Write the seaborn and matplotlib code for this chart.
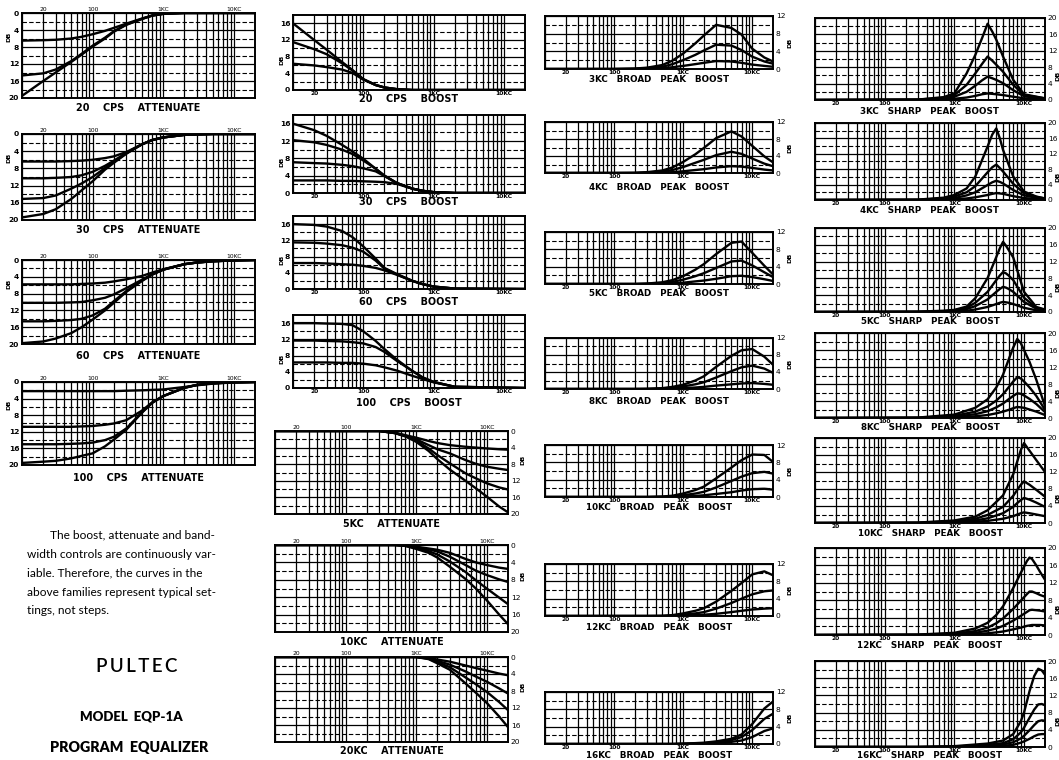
import matplotlib
matplotlib.use("Agg")
import matplotlib.pyplot as plt
from matplotlib.ticker import NullFormatter
import seaborn as sns

# ---------------- DATA (dB values) ----------------
FREQ_LOW_ATT = [10, 20, 30, 50, 70, 100, 150, 200, 300, 500, 700, 1000, 2000, 3000, 5000, 10000, 20000]
ATT_20CPS = [
    [19.5, 16.0, 14.0, 11.5, 9.8, 7.9, 6.0, 4.4, 2.8, 1.4, 0.6, 0.2, 0, 0, 0, 0, 0],
    [14.7, 14.2, 13.3, 11.3, 9.6, 7.7, 5.8, 4.3, 2.7, 1.4, 0.6, 0.2, 0, 0, 0, 0, 0],
    [6.5, 6.4, 6.3, 6.0, 5.6, 5.0, 4.2, 3.5, 2.5, 1.3, 0.6, 0.2, 0, 0, 0, 0, 0],
]
ATT_30CPS = [
    [19.4, 18.6, 17.5, 15.1, 13.1, 11.0, 8.3, 6.7, 4.6, 2.4, 1.4, 0.8, 0.2, 0.1, 0, 0, 0],
    [15.1, 14.9, 14.3, 12.7, 11.5, 10.0, 7.9, 6.5, 4.5, 2.4, 1.4, 0.8, 0.2, 0.1, 0, 0, 0],
    [10.3, 10.3, 10.2, 10.0, 9.6, 8.8, 7.4, 6.2, 4.4, 2.4, 1.4, 0.8, 0.2, 0.1, 0, 0, 0],
    [6.4, 6.4, 6.4, 6.3, 6.2, 6.0, 5.6, 5.2, 4.2, 2.4, 1.4, 0.8, 0.2, 0.1, 0, 0, 0],
]
ATT_60CPS = [
    [19.8, 19.4, 18.7, 17.4, 16.0, 14.2, 12.0, 10.2, 7.6, 5.0, 3.5, 2.3, 1.0, 0.6, 0.3, 0.1, 0],
    [14.6, 14.6, 14.5, 14.3, 14.0, 13.2, 11.6, 9.8, 7.4, 4.9, 3.4, 2.3, 1.0, 0.6, 0.3, 0.1, 0],
    [10.2, 10.2, 10.2, 10.1, 10.0, 9.6, 9.0, 8.2, 6.7, 4.7, 3.4, 2.3, 1.0, 0.6, 0.3, 0.1, 0],
    [5.8, 5.8, 5.8, 5.8, 5.7, 5.6, 5.4, 5.1, 4.6, 3.8, 3.0, 2.2, 1.0, 0.6, 0.3, 0.1, 0],
]
ATT_100CPS = [
    [19.5, 19.2, 19.0, 18.4, 17.8, 17.2, 15.5, 13.9, 11.5, 7.4, 5.0, 3.4, 1.4, 0.7, 0.3, 0.1, 0],
    [15.0, 15.0, 15.0, 14.9, 14.8, 14.6, 14.0, 13.2, 11.2, 7.3, 5.0, 3.4, 1.4, 0.7, 0.3, 0.1, 0],
    [10.8, 10.8, 10.8, 10.8, 10.7, 10.6, 10.3, 10.0, 9.2, 6.9, 4.9, 3.4, 1.4, 0.7, 0.3, 0.1, 0],
    [2.2, 2.2, 2.2, 2.2, 2.2, 2.2, 2.2, 2.2, 2.1, 2.0, 1.9, 1.8, 1.2, 0.8, 0.4, 0.1, 0],
]

FREQ_LOW_BOOST = [10, 20, 30, 50, 70, 100, 150, 200, 300, 500, 700, 1000, 2000, 20000]
BOOST_20CPS = [
    [16.0, 12.0, 9.7, 6.7, 4.8, 2.6, 1.2, 0.6, 0.2, 0, 0, 0, 0, 0],
    [11.5, 9.8, 8.6, 6.4, 4.7, 2.6, 1.2, 0.6, 0.2, 0, 0, 0, 0, 0],
    [6.3, 5.9, 5.5, 4.9, 4.1, 2.5, 1.2, 0.6, 0.2, 0, 0, 0, 0, 0],
]
BOOST_30CPS = [
    [16.0, 14.5, 13.2, 11.1, 9.6, 7.9, 5.6, 4.0, 2.3, 1.0, 0.5, 0.2, 0, 0],
    [12.2, 11.7, 11.1, 10.0, 9.0, 7.5, 5.6, 4.0, 2.3, 1.0, 0.5, 0.2, 0, 0],
    [7.1, 6.9, 6.8, 6.5, 6.2, 5.7, 5.0, 3.9, 2.3, 1.0, 0.5, 0.2, 0, 0],
    [2.9, 2.9, 2.9, 2.8, 2.8, 2.7, 2.6, 2.5, 2.1, 1.0, 0.5, 0.2, 0, 0],
]
BOOST_60CPS = [
    [16.0, 15.8, 15.4, 14.3, 12.8, 10.5, 7.5, 5.2, 3.7, 2.0, 1.2, 0.6, 0.1, 0],
    [11.5, 11.4, 11.2, 10.8, 10.2, 9.2, 7.0, 5.0, 3.6, 2.0, 1.2, 0.6, 0.1, 0],
    [6.4, 6.4, 6.3, 6.1, 6.0, 5.7, 5.2, 4.6, 3.5, 2.0, 1.2, 0.6, 0.1, 0],
]
BOOST_100CPS = [
    [16.0, 16.0, 15.9, 15.8, 15.5, 14.0, 11.6, 9.6, 7.0, 4.2, 2.6, 1.5, 0.3, 0],
    [11.7, 11.7, 11.6, 11.5, 11.3, 11.0, 10.1, 8.9, 6.7, 4.2, 2.6, 1.5, 0.3, 0],
    [6.3, 6.3, 6.3, 6.2, 6.2, 6.0, 5.6, 5.1, 4.3, 3.0, 2.2, 1.4, 0.3, 0],
]

FREQ_HIGH_ATT = [10, 100, 300, 500, 700, 1000, 1500, 2000, 3000, 5000, 7000, 10000, 15000, 20000]
ATT_5KC = [
    [0, 0, 0, 0.4, 1.0, 1.6, 2.4, 2.9, 3.4, 3.8, 4.0, 4.2, 4.4, 4.5],
    [0, 0, 0, 0.5, 1.1, 2.0, 3.4, 4.4, 5.4, 7.0, 7.9, 8.6, 9.1, 9.4],
    [0, 0, 0, 0.5, 1.2, 2.3, 4.2, 5.8, 7.8, 10.2, 11.4, 12.6, 13.6, 14.1],
    [0, 0, 0, 0.5, 1.3, 2.6, 4.8, 6.8, 9.3, 12.0, 13.8, 15.8, 18.2, 19.6],
]
ATT_10KC = [
    [0, 0, 0, 0, 0.1, 0.4, 0.8, 1.1, 1.8, 3.2, 4.0, 4.6, 5.2, 5.5],
    [0, 0, 0, 0, 0.1, 0.5, 1.0, 1.5, 2.7, 4.6, 5.9, 6.9, 7.9, 8.5],
    [0, 0, 0, 0, 0.2, 0.7, 1.4, 2.2, 3.8, 6.2, 8.1, 10.0, 12.1, 13.6],
    [0, 0, 0, 0, 0.2, 0.9, 1.8, 2.9, 5.0, 7.8, 10.0, 12.7, 16.0, 18.2],
]
ATT_20KC = [
    [0, 0, 0, 0, 0, 0, 0.2, 0.6, 1.1, 2.0, 2.6, 3.2, 3.9, 4.3],
    [0, 0, 0, 0, 0, 0, 0.3, 0.9, 1.8, 3.4, 4.6, 5.8, 7.4, 8.6],
    [0, 0, 0, 0, 0, 0, 0.4, 1.2, 2.4, 4.8, 6.4, 8.2, 10.6, 12.5],
    [0, 0, 0, 0, 0, 0, 0.5, 1.5, 3.0, 6.2, 8.4, 10.8, 14.0, 16.5],
]

FREQ_BROAD = [10, 100, 200, 300, 500, 700, 1000, 1500, 2000, 3000, 5000, 7000, 10000, 15000, 20000]
BROAD_3KC = [
    [0, 0, 0.1, 0.3, 0.9, 1.9, 3.5, 5.8, 7.6, 10.0, 9.3, 7.8, 4.6, 2.6, 1.7],
    [0, 0, 0.05, 0.2, 0.5, 1.1, 2.0, 3.2, 4.2, 5.5, 5.3, 4.3, 2.8, 1.7, 1.2],
    [0, 0, 0, 0.1, 0.2, 0.4, 0.7, 1.1, 1.4, 1.8, 1.7, 1.4, 1.0, 0.7, 0.5],
]
BROAD_4KC = [
    [0, 0, 0.05, 0.2, 0.6, 1.3, 2.6, 4.4, 5.9, 8.2, 9.8, 8.6, 6.4, 3.9, 2.5],
    [0, 0, 0, 0.1, 0.35, 0.7, 1.4, 2.4, 3.1, 4.2, 5.0, 4.5, 3.4, 2.2, 1.6],
    [0, 0, 0, 0, 0.1, 0.2, 0.4, 0.7, 0.9, 1.3, 1.6, 1.5, 1.2, 0.8, 0.6],
]
BROAD_5KC = [
    [0, 0, 0, 0.1, 0.4, 0.9, 1.8, 3.3, 4.6, 6.9, 9.5, 9.8, 7.2, 4.2, 2.2],
    [0, 0, 0, 0.05, 0.2, 0.5, 1.0, 1.8, 2.5, 3.7, 5.2, 5.4, 4.3, 2.7, 1.6],
    [0, 0, 0, 0, 0.1, 0.15, 0.3, 0.6, 0.8, 1.2, 1.8, 1.9, 1.6, 1.1, 0.7],
]
BROAD_8KC = [
    [0, 0, 0, 0.05, 0.2, 0.5, 1.0, 2.0, 3.0, 5.2, 7.8, 9.1, 9.4, 7.6, 5.7],
    [0, 0, 0, 0, 0.1, 0.3, 0.6, 1.1, 1.6, 2.7, 4.2, 5.1, 5.5, 4.8, 3.8],
    [0, 0, 0, 0, 0, 0.1, 0.2, 0.35, 0.5, 0.8, 1.1, 1.3, 1.4, 1.2, 1.0],
]
BROAD_10KC = [
    [0, 0, 0, 0, 0.1, 0.3, 0.8, 1.6, 2.4, 4.3, 6.8, 8.5, 9.8, 9.7, 8.1],
    [0, 0, 0, 0, 0.05, 0.15, 0.4, 0.8, 1.2, 2.2, 3.7, 4.7, 5.5, 5.8, 5.4],
    [0, 0, 0, 0, 0, 0.05, 0.1, 0.25, 0.4, 0.7, 1.1, 1.5, 1.8, 1.9, 1.7],
]
BROAD_12KC = [
    [0, 0, 0, 0, 0.05, 0.2, 0.6, 1.2, 1.8, 3.3, 5.8, 7.6, 9.6, 10.3, 9.4],
    [0, 0, 0, 0, 0, 0.1, 0.3, 0.6, 0.9, 1.7, 3.0, 4.0, 5.0, 5.7, 5.9],
    [0, 0, 0, 0, 0, 0, 0.1, 0.2, 0.3, 0.5, 0.9, 1.2, 1.5, 1.7, 1.8],
]
BROAD_16KC = [
    [0, 0, 0, 0, 0, 0, 0.1, 0.2, 0.3, 0.6, 1.2, 2.2, 4.6, 8.2, 9.8],
    [0, 0, 0, 0, 0, 0, 0.05, 0.1, 0.2, 0.4, 0.9, 1.6, 3.2, 5.8, 7.0],
    [0, 0, 0, 0, 0, 0, 0, 0.05, 0.1, 0.2, 0.5, 0.8, 1.6, 3.0, 3.6],
]

FREQ_SHARP_3KC = [10, 300, 700, 1000, 1500, 2000, 2500, 3000, 3500, 4000, 5000, 7000, 10000, 20000]
SHARP_3KC = [
    [0, 0.1, 0.7, 1.6, 6.5, 11.0, 15.1, 18.6, 16.7, 14.7, 10.6, 4.9, 1.4, 0.4],
    [0, 0.1, 0.5, 1.2, 3.7, 6.5, 8.8, 10.6, 9.6, 8.6, 6.9, 3.7, 1.2, 0.4],
    [0, 0.05, 0.3, 0.8, 2.0, 3.5, 4.8, 5.7, 5.3, 4.9, 4.1, 2.4, 0.9, 0.3],
    [0, 0, 0.1, 0.3, 0.6, 1.0, 1.4, 1.6, 1.5, 1.4, 1.2, 0.8, 0.4, 0.2],
]
FREQ_SHARP_4KC = [10, 300, 700, 1000, 1500, 2000, 3000, 3500, 4000, 4500, 5000, 7000, 10000, 15000, 20000]
SHARP_4KC = [
    [0, 0.1, 0.6, 1.3, 3.0, 6.1, 13.9, 17.0, 18.6, 16.0, 13.0, 6.1, 2.2, 0.9, 0.4],
    [0, 0.05, 0.4, 0.9, 2.0, 3.6, 7.2, 8.5, 9.2, 8.3, 7.4, 4.2, 1.8, 0.8, 0.4],
    [0, 0, 0.2, 0.5, 1.2, 2.0, 3.9, 4.6, 5.0, 4.7, 4.3, 2.6, 1.2, 0.6, 0.3],
    [0, 0, 0.1, 0.2, 0.4, 0.7, 1.3, 1.6, 1.8, 1.7, 1.6, 1.0, 0.5, 0.3, 0.2],
]
FREQ_SHARP_5KC = [10, 300, 700, 1000, 1500, 2000, 3000, 4000, 4500, 5000, 5500, 6000, 7000, 10000, 15000, 20000]
SHARP_5KC = [
    [0, 0.1, 0.3, 0.5, 1.3, 3.3, 8.1, 13.1, 15.2, 16.7, 15.8, 14.8, 13.0, 4.8, 1.2, 0.6],
    [0, 0.05, 0.2, 0.4, 1.0, 2.2, 4.8, 7.6, 8.7, 9.5, 9.2, 8.7, 7.6, 3.4, 1.0, 0.5],
    [0, 0, 0.1, 0.3, 0.7, 1.4, 3.0, 4.8, 5.5, 6.0, 5.8, 5.5, 4.8, 2.4, 0.8, 0.4],
    [0, 0, 0.05, 0.1, 0.3, 0.6, 1.2, 1.9, 2.2, 2.4, 2.3, 2.2, 1.9, 1.0, 0.4, 0.2],
]
FREQ_SHARP_8KC = [10, 300, 1000, 2000, 3000, 4000, 5000, 6000, 7000, 8000, 9000, 10000, 12000, 15000, 20000]
SHARP_8KC = [
    [0, 0.1, 0.8, 2.4, 4.4, 7.2, 10.2, 13.7, 16.6, 18.6, 17.6, 16.0, 13.2, 9.0, 2.8],
    [0, 0.05, 0.5, 1.5, 2.7, 4.1, 5.6, 7.2, 8.6, 9.6, 9.3, 8.6, 7.2, 5.2, 1.9],
    [0, 0, 0.3, 0.9, 1.6, 2.5, 3.4, 4.4, 5.2, 5.8, 5.7, 5.3, 4.5, 3.3, 1.4],
    [0, 0, 0.1, 0.4, 0.7, 1.1, 1.5, 1.9, 2.3, 2.6, 2.5, 2.4, 2.0, 1.5, 0.7],
]
FREQ_SHARP_10KC = [10, 300, 1000, 2000, 3000, 5000, 7000, 8000, 9000, 10000, 12000, 15000, 20000]
SHARP_10KC = [
    [0, 0.1, 0.6, 1.5, 3.0, 6.5, 11.5, 14.5, 17.2, 18.8, 17.0, 14.8, 12.0],
    [0, 0.05, 0.4, 1.0, 1.9, 3.8, 6.4, 7.8, 9.0, 9.8, 9.0, 7.8, 6.2],
    [0, 0, 0.2, 0.6, 1.1, 2.3, 3.8, 4.7, 5.4, 5.9, 5.5, 4.8, 3.8],
    [0, 0, 0.1, 0.3, 0.5, 1.0, 1.6, 2.0, 2.3, 2.5, 2.3, 2.0, 1.6],
]
FREQ_SHARP_12KC = [10, 300, 1000, 2000, 3000, 4000, 5000, 7000, 9000, 11000, 12000, 13000, 15000, 17000, 20000]
SHARP_12KC = [
    [0, 0.1, 0.5, 1.5, 2.8, 4.6, 6.6, 10.8, 14.3, 17.0, 17.8, 17.5, 16.0, 14.5, 12.7],
    [0, 0.05, 0.3, 0.9, 1.7, 2.7, 3.8, 6.0, 7.9, 9.4, 10.0, 10.0, 9.6, 9.2, 8.8],
    [0, 0, 0.2, 0.5, 1.0, 1.5, 2.1, 3.3, 4.4, 5.3, 5.7, 5.8, 5.7, 5.6, 5.4],
    [0, 0, 0.1, 0.2, 0.4, 0.6, 0.8, 1.3, 1.7, 2.1, 2.2, 2.3, 2.3, 2.3, 2.2],
]
FREQ_SHARP_16KC = [10, 300, 1000, 3000, 5000, 7000, 9000, 10000, 12000, 14000, 16000, 18000, 20000]
SHARP_16KC = [
    [0, 0, 0.2, 0.8, 1.5, 3.0, 6.0, 8.0, 13.0, 16.5, 18.2, 17.8, 16.8],
    [0, 0, 0.1, 0.5, 0.9, 1.8, 3.4, 4.5, 6.8, 8.7, 9.9, 10.0, 9.7],
    [0, 0, 0.05, 0.3, 0.6, 1.1, 2.0, 2.6, 3.9, 5.1, 6.0, 6.2, 6.1],
    [0, 0, 0, 0.1, 0.3, 0.5, 1.0, 1.3, 1.9, 2.5, 2.9, 3.0, 3.0],
]

X_TICKS = [20, 100, 1000, 10000]
X_TICK_LABELS = ["20", "100", "1KC", "10KC"]

PARAGRAPH = [
    "The boost, attenuate and band-",
    "width controls are continuously var-",
    "iable. Therefore, the curves in the",
    "above families represent typical set-",
    "tings, not steps.",
]

# ---------------- STYLE / LAYOUT ----------------
sns.set_theme(style="white")
plt.rcParams["font.family"] = ["DejaVu Sans"]
plt.rcParams["text.color"] = "black"
plt.rcParams["xtick.color"] = "black"
plt.rcParams["ytick.color"] = "black"
plt.rcParams["axes.labelcolor"] = "black"

W, H = 1059, 760
fig = plt.figure(figsize=(W / 100, H / 100), dpi=100)
fig.patch.set_facecolor("white")

GRID_X = (list(range(10, 100, 10)) + list(range(100, 1000, 100))
          + list(range(1000, 10000, 1000)) + [10000, 20000])


def add_ax(x0, x1, y0, y1):
    return fig.add_axes([x0 / W, 1 - y1 / H, (x1 - x0) / W, (y1 - y0) / H])


def draw(box, freq, curves, ymax, invert, yside, xside, title, title_y,
         db_pos, title_size):
    ax = add_ax(*box)
    for c in curves:
        sns.lineplot(x=freq, y=c, ax=ax, color="black", linewidth=1.7,
                     legend=False, zorder=4)
    ax.set_xscale("log")
    ax.set_xlim(10, 20000)
    ax.set_ylim(0, ymax)
    if invert:
        ax.invert_yaxis()
    ax.set_xticks(X_TICKS)
    ax.set_xticklabels(X_TICK_LABELS)
    ax.set_xticks(GRID_X, minor=True)
    ax.xaxis.set_minor_formatter(NullFormatter())
    ax.set_yticks(list(range(0, ymax + 1, 4)))
    ax.set_yticks(list(range(2, ymax, 4)), minor=True)
    ax.yaxis.set_minor_formatter(NullFormatter())
    ax.grid(False)
    ax.grid(which="both", axis="x", color="black", linewidth=0.9, zorder=1)
    ax.grid(which="major", axis="y", color="black", linewidth=0.9, zorder=1)
    ax.grid(which="minor", axis="y", color="black", linewidth=0.8,
            linestyle=(0, (4, 2)), zorder=1)
    ax.tick_params(axis="x", labelsize=4.3, pad=0.5, colors="black")
    ax.tick_params(axis="y", labelsize=5.4, pad=2, colors="black")
    for lab in ax.get_xticklabels() + ax.get_yticklabels():
        lab.set_fontweight("bold")
    if xside == "top":
        ax.xaxis.tick_top()
    if yside == "right":
        ax.yaxis.tick_right()
    ax.tick_params(which="both", length=0)
    for s in ax.spines.values():
        s.set_color("black")
        s.set_linewidth(1.4)
    ax.set_xlabel("")
    ax.set_ylabel("")
    ax.text(db_pos[0], db_pos[1], "DB", transform=ax.transAxes, rotation=90,
            fontsize=4.6, fontweight="bold", ha="center", va="center",
            color="black")
    cx = (box[0] + box[1]) / 2
    fig.text(cx / W, 1 - title_y / H, title, ha="center", va="center",
             fontsize=title_size, fontweight="bold", color="black")
    return ax


# Column 1: low-frequency attenuate
C1 = (22, 255)
for data, (y0, y1, ty), t in [
    (ATT_20CPS, (13, 98, 108), "20    CPS    ATTENUATE"),
    (ATT_30CPS, (134, 220, 230), "30    CPS    ATTENUATE"),
    (ATT_60CPS, (260, 344, 356), "60    CPS    ATTENUATE"),
    (ATT_100CPS, (382, 465, 478), "100    CPS    ATTENUATE"),
]:
    draw((C1[0], C1[1], y0, y1), FREQ_LOW_ATT, data, 20, True, "left", "top",
         t, ty, (-0.055, 0.72), 6.9)

# Column 2: low-frequency boost
C2 = (293, 525)
for data, (y0, y1, ty), t in [
    (BOOST_20CPS, (15, 90, 99), "20    CPS    BOOST"),
    (BOOST_30CPS, (115, 193, 202), "30    CPS    BOOST"),
    (BOOST_60CPS, (216, 289, 302), "60    CPS    BOOST"),
    (BOOST_100CPS, (315, 388, 403), "100    CPS    BOOST"),
]:
    draw((C2[0], C2[1], y0, y1), FREQ_LOW_BOOST, data, 18, False, "left",
         "bottom", t, ty, (-0.05, 0.4), 6.9)

# Column 2: high-frequency attenuate
C2b = (275, 508)
for data, (y0, y1, ty), t in [
    (ATT_5KC, (431, 514, 524), "5KC    ATTENUATE"),
    (ATT_10KC, (545, 632, 642), "10KC    ATTENUATE"),
    (ATT_20KC, (657, 742, 751), "20KC    ATTENUATE"),
]:
    draw((C2b[0], C2b[1], y0, y1), FREQ_HIGH_ATT, data, 20, True, "right",
         "top", t, ty, (1.065, 0.65), 6.9)

# Column 3: broad peak boost
C3 = (545, 773)
for data, (y0, y1, ty), t in [
    (BROAD_3KC, (16, 69, 80), "3KC   BROAD   PEAK   BOOST"),
    (BROAD_4KC, (122, 173, 188), "4KC   BROAD   PEAK   BOOST"),
    (BROAD_5KC, (232, 284, 293), "5KC   BROAD   PEAK   BOOST"),
    (BROAD_8KC, (338, 389, 401), "8KC   BROAD   PEAK   BOOST"),
    (BROAD_10KC, (445, 497, 507), "10KC   BROAD   PEAK   BOOST"),
    (BROAD_12KC, (564, 616, 627), "12KC   BROAD   PEAK   BOOST"),
    (BROAD_16KC, (692, 744, 755), "16KC   BROAD   PEAK   BOOST"),
]:
    draw((C3[0], C3[1], y0, y1), FREQ_BROAD, data, 12, False, "right",
         "bottom", t, ty, (1.075, 0.5), 6.3)

# Column 4: sharp peak boost
C4 = (815, 1045)
for freq, data, (y0, y1, ty), t in [
    (FREQ_SHARP_3KC, SHARP_3KC, (18, 100, 112), "3KC   SHARP   PEAK   BOOST"),
    (FREQ_SHARP_4KC, SHARP_4KC, (123, 200, 210), "4KC   SHARP   PEAK   BOOST"),
    (FREQ_SHARP_5KC, SHARP_5KC, (228, 312, 322), "5KC   SHARP   PEAK   BOOST"),
    (FREQ_SHARP_8KC, SHARP_8KC, (333, 418, 428), "8KC   SHARP   PEAK   BOOST"),
    (FREQ_SHARP_10KC, SHARP_10KC, (438, 523, 533), "10KC   SHARP   PEAK   BOOST"),
    (FREQ_SHARP_12KC, SHARP_12KC, (548, 635, 645), "12KC   SHARP   PEAK   BOOST"),
    (FREQ_SHARP_16KC, SHARP_16KC, (661, 747, 756), "16KC   SHARP   PEAK   BOOST"),
]:
    draw((C4[0], C4[1], y0, y1), freq, data, 20, False, "right", "bottom",
         t, ty, (1.055, 0.3), 6.3)

# Text block
para_y = [535, 555, 573, 592, 611]
for i, (line, y) in enumerate(zip(PARAGRAPH, para_y)):
    x = 50 if i == 0 else 27
    fig.text(x / W, 1 - y / H, line, ha="left", va="center", fontsize=8.6,
             family="Lato", color="black")

fig.text(137 / W, 1 - 667 / H, "P\u2009U\u2009L\u2009T\u2009E\u2009C",
         ha="center", va="center", fontsize=13.5,
         family=["Lato", "DejaVu Sans"], fontweight="semibold", color="black")
fig.text(131 / W, 1 - 717 / H, "MODEL  EQP-1A", ha="center", va="center",
         fontsize=9.5, family="Lato", fontweight="heavy", color="black")
fig.text(129 / W, 1 - 747 / H, "PROGRAM  EQUALIZER", ha="center", va="center",
         fontsize=10.3, family="Lato", fontweight="heavy", color="black")

fig.savefig("out.png", dpi=100, facecolor="white")
